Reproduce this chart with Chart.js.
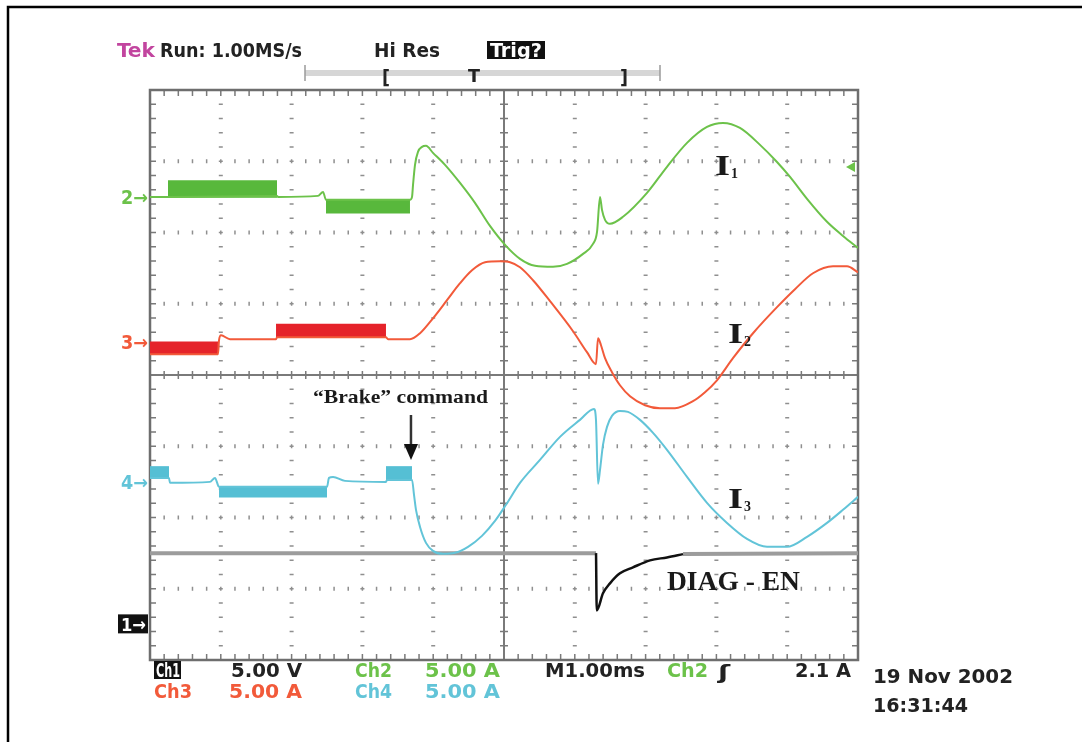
<!DOCTYPE html>
<html>
<head>
<meta charset="utf-8">
<script src="https://cdn.jsdelivr.net/npm/chart.js@4.4.1/dist/chart.umd.min.js"></script>
<style>
  html, body { margin: 0; padding: 0; background: #ffffff; }
  #wrap { position: relative; width: 1082px; height: 742px; }
  canvas { display: block; }
</style>
</head>
<body>
<div id="wrap"><canvas id="c" width="1082" height="742"></canvas></div>
<script>
// ---------- DATA (time in ms from left edge of screen, currents in A, voltage in V) ----------
const ch2T = [0, 0.254, 1.794, 1.808, 2.373, 2.444, 2.486, 3.672, 3.701, 3.715, 3.743, 3.785, 3.842, 3.898, 3.997, 4.167, 4.379, 4.59, 4.802, 5.028, 5.226, 5.438, 5.692, 5.89, 6.116, 6.257, 6.314, 6.356, 6.384, 6.427, 6.497, 6.681, 7.02, 7.302, 7.585, 7.867, 8.093, 8.333, 8.616, 8.856, 9.04, 9.28, 9.562, 9.788, 10.0];
const ch2A = [0, 0, 0.07, 0, 0.07, 0.35, -0.21, -0.21, 0, 0.84, 2.25, 3.16, 3.51, 3.58, 3.09, 2.25, 0.98, -0.42, -2.04, -3.44, -4.35, -4.84, -4.91, -4.70, -4.0, -3.30, -2.46, 0, -0.91, -1.61, -1.89, -1.40, 0.28, 2.11, 3.79, 4.91, 5.19, 4.84, 3.65, 2.45, 1.40, -0.14, -1.75, -2.74, -3.58];
// PWM bands: [tStart, tEnd, upper A, lower A]
const ch2Bands = [[0.254, 1.794, 1.12, 0.0], [2.486, 3.672, -0.21, -1.12]];

const ch3T = [0, 0.96, 0.975, 1.003, 1.13, 1.78, 1.794, 3.333, 3.362, 3.672, 3.814, 3.997, 4.195, 4.379, 4.548, 4.732, 4.944, 5.085, 5.226, 5.41, 5.65, 5.975, 6.172, 6.299, 6.328, 6.37, 6.427, 6.525, 6.638, 6.78, 6.992, 7.203, 7.415, 7.669, 7.839, 8.008, 8.234, 8.517, 8.856, 9.11, 9.364, 9.647, 9.845, 10.0];
const ch3A = [-0.84, -0.84, 0.14, 0.49, 0.21, 0.21, 0.35, 0.35, 0.21, 0.21, 0.63, 1.68, 2.95, 4.14, 5.05, 5.61, 5.68, 5.61, 5.26, 4.35, 2.88, 0.77, -0.70, -1.54, 0.28, -0.21, -1.12, -2.11, -3.02, -3.79, -4.42, -4.63, -4.63, -4.14, -3.51, -2.67, -1.12, 0.63, 2.46, 3.72, 4.84, 5.33, 5.33, 4.91];
const ch3Bands = [[0, 0.96, 0.0, -0.84], [1.78, 3.333, 1.24, 0.35]];

const ch4T = [0, 0.268, 0.282, 0.847, 0.918, 0.975, 2.5, 2.528, 2.585, 2.754, 3.333, 3.347, 3.701, 3.729, 3.757, 3.814, 3.898, 3.997, 4.138, 4.308, 4.492, 4.689, 4.873, 5.028, 5.226, 5.508, 5.791, 6.073, 6.271, 6.299, 6.328, 6.356, 6.398, 6.455, 6.525, 6.638, 6.751, 6.921, 7.105, 7.302, 7.585, 7.867, 8.15, 8.432, 8.715, 8.997, 9.28, 9.562, 9.788, 10.0];
const ch4A = [0.28, 0.28, -0.07, 0, 0.28, -0.35, -0.35, 0.28, 0.35, 0.07, 0, 0.14, 0.14, -0.91, -1.96, -3.16, -4.28, -4.84, -5.05, -4.98, -4.56, -3.79, -2.74, -1.61, -0.07, 1.54, 3.16, 4.35, 5.12, 4.35, -0.14, 0.84, 2.6, 3.86, 4.63, 4.98, 4.91, 4.35, 3.44, 2.25, 0.35, -1.47, -2.88, -4.0, -4.56, -4.56, -3.86, -2.88, -1.96, -1.05];
const ch4Bands = [[0, 0.268, 1.05, 0.28], [0.975, 2.5, -0.35, -1.05], [3.333, 3.701, 1.05, 0.14]];

const ch1T = [0, 6.30, 6.31, 6.398, 6.497, 6.638, 6.822, 7.062, 7.302, 7.528, 10];
const ch1V = [5.0, 5.0, 0.98, 2.18, 2.88, 3.58, 4.0, 4.49, 4.70, 4.93, 5.0];
const ch1DipStart = 6.30, ch1DipEnd = 7.528;

// channel settings: volts/div or amps/div and ground position (divisions from bottom)
const chScale = { ch1: 5, ch2: 5, ch3: 5, ch4: 5 };
const chGround = { ch1: 0.5, ch2: 6.5, ch3: 4.46, ch4: 2.5 };
const trigLevelA = 2.1;

// ---------- STYLE ----------
const COL = {
  green: '#6cc24a', greenBand: '#58b83c',
  red: '#f25a3a', redBand: '#e5232a',
  cyan: '#62c4d8', cyanBand: '#55bfd4',
  gray: '#9c9c9c', black: '#111111', grid: '#8f8f8f'
};

function pts(T, V) { return T.map((t, i) => ({ x: t, y: V[i] })); }

function bandDatasets(bands, axis, color) {
  const out = [];
  bands.forEach(b => {
    out.push({ data: [{ x: b[0], y: b[2] }, { x: b[1], y: b[2] }], yAxisID: axis, borderColor: color,
      borderWidth: 1.5, pointRadius: 0, fill: false, tension: 0, order: 5 });
    out.push({ data: [{ x: b[0], y: b[3] }, { x: b[1], y: b[3] }], yAxisID: axis, borderColor: color,
      backgroundColor: color, borderWidth: 1.5, pointRadius: 0, fill: '-1', tension: 0, order: 5 });
  });
  return out;
}

function trace(T, V, axis, color, w) {
  return { data: pts(T, V), yAxisID: axis, borderColor: color, borderWidth: w, pointRadius: 0,
    fill: false, cubicInterpolationMode: 'monotone', order: 1 };
}

const ch1Gray = ch1T.map((t, i) => ({ x: t, y: (t <= ch1DipStart || t >= ch1DipEnd) ? ch1V[i] : null }));
const ch1Dip = ch1T.map((t, i) => ({ x: t, y: (t >= ch1DipStart && t <= ch1DipEnd) ? ch1V[i] : null }));

const datasets = [
  ...bandDatasets(ch2Bands, 'y2', COL.greenBand),
  ...bandDatasets(ch3Bands, 'y3', COL.redBand),
  ...bandDatasets(ch4Bands, 'y4', COL.cyanBand),
  trace(ch2T, ch2A, 'y2', COL.green, 2),
  trace(ch3T, ch3A, 'y3', COL.red, 2),
  trace(ch4T, ch4A, 'y4', COL.cyan, 2),
  { data: ch1Gray, yAxisID: 'y1', borderColor: COL.gray, borderWidth: 4, pointRadius: 0, fill: false, tension: 0, spanGaps: false, order: 2 },
  { data: ch1Dip, yAxisID: 'y1', borderColor: COL.black, borderWidth: 2.5, pointRadius: 0, fill: false, cubicInterpolationMode: 'monotone', spanGaps: false, order: 1 }
];

function axisFor(ch) {
  const s = chScale[ch], g = chGround[ch];
  return { type: 'linear', display: false, min: -g * s, max: (8 - g) * s };
}

// ---------- TEXT HELPERS ----------
const SCOPE_FONT = '"DejaVu Sans Condensed", "DejaVu Sans", sans-serif';
const SERIF_FONT = '"Liberation Serif", "DejaVu Serif", serif';
function fitText(ctx, s, x, base, w, font, color) {
  ctx.save();
  ctx.font = font;
  const m = ctx.measureText(s).width;
  const sx = w ? w / m : 1;
  ctx.translate(x, base);
  ctx.scale(sx, 1);
  ctx.fillStyle = color;
  ctx.textBaseline = 'alphabetic';
  ctx.textAlign = 'left';
  ctx.fillText(s, 0, 0);
  ctx.restore();
}
function box(ctx, x, y, w, h, c) { ctx.fillStyle = c; ctx.fillRect(x, y, w, h); }

const scopePlugin = {
  id: 'scope',
  beforeDatasetsDraw(chart) {
    const { ctx, chartArea: a, scales } = chart;
    const X = scales.x, Y = scales.yDiv;
    ctx.save();
    // dotted graticule
    ctx.fillStyle = COL.grid;
    for (let i = 1; i < 10; i++) {
      if (i === 5) continue;
      const px = X.getPixelForValue(i);
      for (let j = 1; j < 40; j++) {
        const py = Y.getPixelForValue(j * 0.2);
        ctx.fillRect(px - 2, py - 0.75, 4, 1.5);
      }
    }
    for (let j = 1; j < 8; j++) {
      if (j === 4) continue;
      const py = Y.getPixelForValue(j);
      for (let i = 1; i < 50; i++) {
        const px = X.getPixelForValue(i * 0.2);
        ctx.fillRect(px - 0.75, py - 2, 1.5, 4);
      }
    }
    // centre cross
    ctx.strokeStyle = '#7a7a7a';
    ctx.lineWidth = 2;
    const cx = X.getPixelForValue(5), cy = Y.getPixelForValue(4);
    ctx.beginPath();
    ctx.moveTo(cx, a.top); ctx.lineTo(cx, a.bottom);
    ctx.moveTo(a.left, cy); ctx.lineTo(a.right, cy);
    ctx.stroke();
    ctx.lineWidth = 1.5;
    ctx.beginPath();
    for (let i = 1; i < 50; i++) {
      const px = X.getPixelForValue(i * 0.2);
      ctx.moveTo(px, cy - 4); ctx.lineTo(px, cy + 4);
      ctx.moveTo(px, a.top); ctx.lineTo(px, a.top + 6);
      ctx.moveTo(px, a.bottom); ctx.lineTo(px, a.bottom - 6);
    }
    for (let j = 1; j < 40; j++) {
      const py = Y.getPixelForValue(j * 0.2);
      ctx.moveTo(cx - 4, py); ctx.lineTo(cx + 4, py);
      ctx.moveTo(a.left, py); ctx.lineTo(a.left + 6, py);
      ctx.moveTo(a.right, py); ctx.lineTo(a.right - 6, py);
    }
    ctx.stroke();
    // frame
    ctx.lineWidth = 2.5;
    ctx.strokeStyle = '#6e6e6e';
    ctx.strokeRect(a.left, a.top, a.right - a.left, a.bottom - a.top);
    ctx.restore();
  },
  afterDraw(chart) {
    const { ctx, chartArea: a, scales } = chart;
    const X = scales.x, Y = scales.yDiv;
    ctx.save();
    // page frame
    ctx.strokeStyle = '#000';
    ctx.lineWidth = 2.5;
    ctx.beginPath();
    ctx.moveTo(1082, 7); ctx.lineTo(8, 7); ctx.lineTo(8, 742);
    ctx.stroke();

    const F = (px) => 'bold ' + px + 'px ' + SCOPE_FONT;
    // header
    fitText(ctx, 'Tek', 117, 57, 38, F(19), '#c2459f');
    fitText(ctx, 'Run: 1.00MS/s', 160, 57, 142, F(19), '#222');
    fitText(ctx, 'Hi Res', 374, 57, 66, F(19), '#222');
    box(ctx, 487, 41, 58, 18, '#111');
    fitText(ctx, 'Trig?', 490, 57, 52, F(19), '#fff');
    // record bar
    ctx.fillStyle = '#d6d6d6';
    ctx.fillRect(305, 70, 355, 6);
    ctx.strokeStyle = '#9a9a9a'; ctx.lineWidth = 1.5;
    ctx.beginPath();
    ctx.moveTo(305, 65); ctx.lineTo(305, 81);
    ctx.moveTo(660, 65); ctx.lineTo(660, 81);
    ctx.stroke();
    fitText(ctx, '[', 382, 84, 8, F(20), '#222');
    fitText(ctx, 'T', 468, 82, 12, F(18), '#222');
    fitText(ctx, ']', 620, 84, 8, F(20), '#222');

    // footer
    box(ctx, 154, 661, 27, 18, '#111');
    fitText(ctx, 'Ch1', 156, 677, 24, F(19), '#fff');
    fitText(ctx, '5.00 V', 231, 677, 71, F(19), '#222');
    fitText(ctx, 'Ch2', 355, 677, 37, F(19), COL.green);
    fitText(ctx, '5.00 A', 425, 677, 75, F(19), COL.green);
    fitText(ctx, 'M1.00ms', 545, 677, 100, F(19), '#222');
    fitText(ctx, 'Ch2', 667, 677, 41, F(19), COL.green);
    fitText(ctx, '\u0283', 718, 679, 12, F(20), '#222');
    fitText(ctx, '2.1 A', 795, 677, 56, F(19), '#222');
    fitText(ctx, 'Ch3', 154, 698, 38, F(19), COL.red);
    fitText(ctx, '5.00 A', 229, 698, 73, F(19), COL.red);
    fitText(ctx, 'Ch4', 355, 698, 37, F(19), COL.cyan);
    fitText(ctx, '5.00 A', 425, 698, 75, F(19), COL.cyan);
    fitText(ctx, '19 Nov 2002', 873, 683, 140, 'bold 20px "DejaVu Sans", sans-serif', '#222');
    fitText(ctx, '16:31:44', 873, 712, 95, 'bold 20px "DejaVu Sans", sans-serif', '#222');

    // channel ground markers
    const g2 = scales.y2.getPixelForValue(0), g3 = scales.y3.getPixelForValue(0), g4 = scales.y4.getPixelForValue(0), g1 = scales.y1.getPixelForValue(0);
    fitText(ctx, '2\u2192', 121, g2 + 7, 27, F(19), COL.green);
    fitText(ctx, '3\u2192', 121, g3 + 7, 27, F(19), COL.red);
    fitText(ctx, '4\u2192', 121, g4 + 7, 27, F(19), COL.cyan);
    box(ctx, 118, g1 - 10, 30, 19, '#111');
    fitText(ctx, '1\u2192', 121, g1 + 7, 25, F(18), '#fff');
    // trigger level marker
    const tl = scales.y2.getPixelForValue(trigLevelA);
    ctx.fillStyle = COL.green;
    ctx.beginPath();
    ctx.moveTo(846, tl); ctx.lineTo(855, tl - 5); ctx.lineTo(855, tl + 5); ctx.closePath();
    ctx.fill();

    // annotations
    const S = (px) => 'bold ' + px + 'px ' + SERIF_FONT;
    const labels = [['1', 7.98, 6.81], ['2', 8.164, 4.449], ['3', 8.164, 2.133]];
    labels.forEach(l => {
      const px = X.getPixelForValue(l[1]), py = Y.getPixelForValue(l[2]);
      fitText(ctx, 'I', px, py, 15, S(29), '#1a1a1a');
      fitText(ctx, l[0], px + 16, py + 3, 7, S(15), '#1a1a1a');
    });
    fitText(ctx, 'DIAG - EN', X.getPixelForValue(7.302), Y.getPixelForValue(0.982), 133, S(27), '#1a1a1a');
    fitText(ctx, '\u201CBrake\u201D command', X.getPixelForValue(2.302), Y.getPixelForValue(3.607), 175, S(19), '#1a1a1a');
    // brake arrow
    const ax = X.getPixelForValue(3.686), ay0 = Y.getPixelForValue(3.439), ay1 = Y.getPixelForValue(2.807);
    ctx.strokeStyle = '#333'; ctx.lineWidth = 2.5;
    ctx.beginPath(); ctx.moveTo(ax, ay0); ctx.lineTo(ax, ay1 - 12); ctx.stroke();
    ctx.fillStyle = '#111';
    ctx.beginPath(); ctx.moveTo(ax - 7, ay1 - 16); ctx.lineTo(ax + 7, ay1 - 16); ctx.lineTo(ax, ay1); ctx.closePath(); ctx.fill();
    ctx.restore();
  }
};

new Chart(document.getElementById('c'), {
  type: 'line',
  data: { datasets },
  options: {
    responsive: false,
    animation: false,
    devicePixelRatio: 1,
    layout: { padding: { left: 150, right: 224, top: 90, bottom: 82 } },
    plugins: { legend: { display: false }, tooltip: { enabled: false }, title: { display: false } },
    scales: {
      x: { type: 'linear', display: false, min: 0, max: 10 },
      yDiv: { type: 'linear', display: false, min: 0, max: 8 },
      y1: axisFor('ch1'),
      y2: axisFor('ch2'),
      y3: axisFor('ch3'),
      y4: axisFor('ch4')
    }
  },
  plugins: [scopePlugin]
});
</script>
</body>
</html>
